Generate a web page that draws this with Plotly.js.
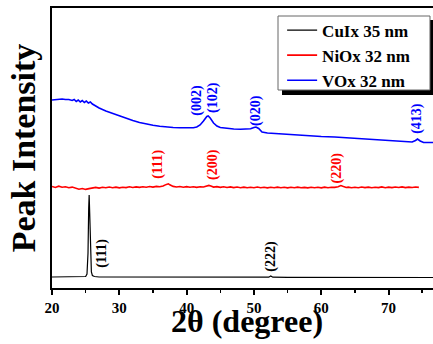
<!DOCTYPE html>
<html>
<head>
<meta charset="utf-8">
<script src="https://cdn.plot.ly/plotly-3.0.1.min.js"></script>
<style>html,body{margin:0;padding:0;background:#fff;}#chart{width:433px;height:344px;}</style>
</head>
<body>
<div id="chart"></div>
<script>
// Series names
const seriesNames = ["CuIx 35 nm", "NiOx 32 nm", "VOx 32 nm"];

// CuIx 35 nm (black)
const cuX = [20, 22, 24, 25.0, 25.2, 25.35, 25.45, 25.52, 25.6, 25.7, 25.85, 26.0, 26.3, 27, 30, 35, 40, 45, 50, 52.2, 52.5, 52.8, 55, 60, 65, 70, 76.6];
const cuY = [11, 11, 11.2, 11.5, 14, 35, 80, 93, 75, 35, 16, 12.5, 11.5, 11, 11, 10.9, 10.9, 10.8, 10.8, 10.8, 12, 10.8, 10.7, 10.6, 10.6, 10.5, 10.5];

// NiOx 32 nm (red)
const niX = [20, 20.5, 21, 21.5, 22, 22.5, 23, 23.5, 24, 24.5, 25, 25.5, 26, 26.5, 27, 27.5, 28, 28.5, 29, 29.5,
  30, 30.5, 31, 31.5, 32, 32.5, 33, 33.5, 34, 34.5, 35, 35.5, 36, 36.5, 37, 37.3, 37.5, 38, 38.5, 39, 39.5,
  40, 40.5, 41, 41.5, 42, 42.5, 43, 43.3, 43.6, 44, 44.5, 45, 45.5, 46, 46.5, 47, 47.5, 48, 48.5, 49, 49.5,
  50, 50.5, 51, 51.5, 52, 52.5, 53, 53.5, 54, 54.5, 55, 55.5, 56, 56.5, 57, 57.5, 58, 58.5, 59, 59.5,
  60, 60.5, 61, 61.5, 62, 62.5, 62.9, 63.3, 63.7, 64, 64.5, 65, 65.5, 66, 66.5, 67, 67.5, 68, 68.5, 69, 69.5,
  70, 70.5, 71, 71.5, 72, 72.5, 73, 73.5, 74, 74.5, 75, 75.5, 76, 76.6];
const niY = [101.5, 100.5, 101.8, 100.8, 101.2, 100.2, 100.9, 99.6, 98.8, 99.5, 98.6, 99.4, 99.8, 100.6, 99.9, 100.7, 100.2, 101.0, 100.3, 100.9,
  100.1, 100.8, 100.4, 101.2, 100.5, 101.1, 100.6, 101.3, 100.8, 101.5, 100.9, 101.6, 101.2, 102.0, 103.6, 104.2, 103.2, 101.6, 101.0, 101.5, 100.8,
  101.4, 100.7, 101.3, 100.6, 101.2, 101.0, 101.8, 102.6, 101.9, 100.9, 101.4, 100.6, 101.2, 100.5, 101.1, 100.4, 101.0, 100.3, 100.9, 100.2, 100.8,
  100.3, 101.0, 100.2, 100.8, 100.1, 100.7, 100.2, 100.9, 100.3, 100.8, 100.1, 100.7, 100.2, 100.9, 100.3, 100.6, 100.1, 100.8, 100.2, 100.7,
  100.1, 100.9, 100.3, 100.8, 100.6, 101.3, 102.4, 101.4, 100.5, 100.9, 100.2, 100.8, 100.3, 101.0, 100.4, 100.9, 100.2, 100.8, 100.4, 101.1, 100.3,
  100.9, 100.4, 101.0, 100.5, 101.1, 100.4, 100.9, 100.5, 101.0, 100.6];

// VOx 32 nm (blue)
const vX = [20, 20.5, 21, 21.5, 22, 22.5, 23, 23.3, 23.6, 23.9, 24.2, 24.5, 24.8, 25.1, 25.4, 25.7, 26, 27, 28, 29, 30, 31, 32, 33, 34, 35, 36, 37, 38, 39, 40, 41, 41.5, 42, 42.5, 43, 43.2, 43.5, 44, 44.5, 45, 46, 47, 48, 49, 49.5, 50, 50.3, 50.7, 51.2, 52, 54, 56, 58, 60, 62, 64, 66, 68, 70, 72, 73.5, 74, 74.3, 74.7, 75.2, 76, 76.6];
const vY = [188, 188.5, 189, 189, 188.5, 188.5, 187.5, 188.5, 186.5, 188, 186, 187.5, 185.5, 187, 185, 186, 184, 180, 177, 174.5, 172, 169.5, 167.5, 165.5, 164, 162.8, 161.8, 161, 160.5, 160.2, 160, 160.3, 161, 163, 167, 171.5, 172, 170, 165, 162, 160.5, 159.5, 159, 158.8, 158.8, 159.2, 160.5, 161, 159.5, 156, 155, 154, 153, 152.5, 151.5, 151, 150, 149.5, 148.5, 147.5, 146.5, 146, 147.5, 149, 147, 145.5, 145.5, 145.5];

// Peak labels
const labelText = ["(002)", "(102)", "(020)", "(413)", "(111)", "(200)", "(220)", "(111)", "(222)"];
const labelX = [41.5, 43.9, 50.3, 74.2, 35.7, 43.9, 62.4, 27.4, 52.5];
const labelY = [188, 191, 178, 170, 124, 124, 120, 35, 32];
const labelSeries = [2, 2, 2, 2, 1, 1, 1, 0, 0];

// Axis tick labels
const xTickVals = [20, 30, 40, 50, 60, 70];
const xTickText = ["20", "30", "40", "50", "60", "70"];
const xMinorVals = [25, 35, 45, 55, 65, 75];

const colors = ["#000000", "#ff0000", "#0000ff"];
const serif = "Liberation Serif, Times New Roman, serif";

const traces = [
  {x: cuX, y: cuY, name: seriesNames[0], mode: "lines", line: {color: colors[0], width: 1.2}},
  {x: niX, y: niY, name: seriesNames[1], mode: "lines", line: {color: colors[1], width: 1.6}},
  {x: vX, y: vY, name: seriesNames[2], mode: "lines", line: {color: colors[2], width: 1.6}}
];

const annotations = labelText.map((t, i) => ({
  x: labelX[i], y: labelY[i], xref: "x", yref: "y", text: t, showarrow: false,
  textangle: -90, font: {family: serif, size: 14, weight: "bold", color: colors[labelSeries[i]]}
}));
// x-axis title (placed as in the reference, close under the tick labels)
annotations.push({
  x: 0.512, y: -0.118, xref: "paper", yref: "paper", xanchor: "center", yanchor: "middle",
  text: "2θ (degree)", showarrow: false,
  font: {family: serif, size: 32, weight: "bold", color: "#000"}
});

const layout = {
  width: 433, height: 344,
  margin: {l: 52, r: 0, t: 8, b: 56},
  paper_bgcolor: "#fff", plot_bgcolor: "#fff",
  showlegend: true,
  legend: {
    x: 0.604, y: 0.984, xanchor: "left", yanchor: "top",
    bgcolor: "rgba(0,0,0,0)", borderwidth: 0,
    font: {family: serif, size: 17, weight: "bold", color: "#000"},
    itemwidth: 30, tracegroupgap: 0
  },
  xaxis: {
    range: [20, 76.6], showgrid: false, zeroline: false,
    showline: true, linecolor: "#000", linewidth: 2, mirror: true,
    ticks: "outside", ticklen: 5, tickwidth: 2, tickcolor: "#000",
    tickvals: xTickVals, ticktext: xTickText,
    minor: {tickvals: xMinorVals, ticks: "outside", ticklen: 3, tickwidth: 1.5, tickcolor: "#000"},
    tickfont: {family: serif, size: 15, weight: "bold", color: "#000"}
  },
  yaxis: {
    range: [0, 280], showgrid: false, zeroline: false,
    showline: true, linecolor: "#000", linewidth: 2,
    ticks: "", showticklabels: false,
    title: {text: "Peak Intensity", font: {family: serif, size: 34, weight: "bold", color: "#000"}, standoff: 4}
  },
  shapes: [
    // legend drop shadow
    {type: "rect", xref: "paper", yref: "paper", layer: "above",
     x0: 0.6037, x1: 1.0, y0: 0.6893, y1: 0.957,
     fillcolor: "#000", line: {width: 0}},
    // legend box
    {type: "rect", xref: "paper", yref: "paper", layer: "above",
     x0: 0.5932, x1: 0.9921, y0: 0.7071, y1: 0.9714,
     fillcolor: "#fff", line: {color: "#666", width: 1}}
  ],
  annotations: annotations
};

Plotly.newPlot("chart", traces, layout, {displayModeBar: false, staticPlot: true});
</script>
</body>
</html>
